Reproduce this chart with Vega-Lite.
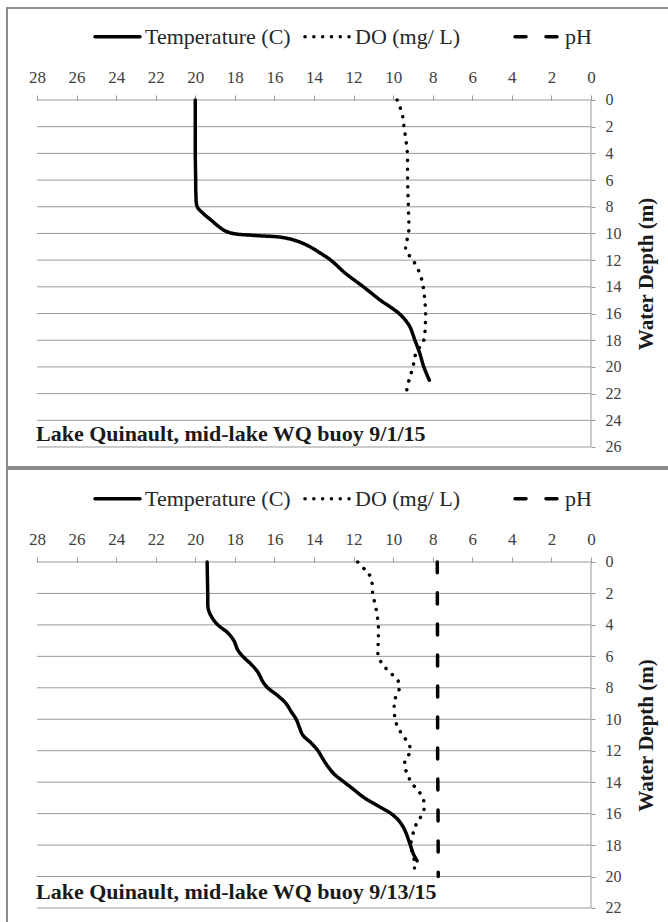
{
  "$schema": "https://vega.github.io/schema/vega-lite/v6.json",
  "background": "white",
  "padding": {"left": 6, "top": 7, "right": 0, "bottom": 0},
  "spacing": 0,
  "config": {
    "font": "'Liberation Serif', 'Times New Roman', serif",
    "view": {"stroke": "#8c8c8c", "strokeWidth": 2, "fill": "white"},
    "axis": {"labelFont": "'Liberation Serif', 'Times New Roman', serif", "titleFont": "'Liberation Serif', 'Times New Roman', serif", "labelColor": "#404040", "labelFontSize": 17, "tickColor": "#999999", "domain": false, "grid": false, "labelOverlap": false},
    "legend": {"labelFont": "'Liberation Serif', 'Times New Roman', serif"},
    "text": {"font": "'Liberation Serif', 'Times New Roman', serif"}
  },
  "resolve": {"scale": {"strokeDash": "independent", "x": "independent", "y": "independent"}, "legend": {"strokeDash": "independent"}},
  "datasets": {
    "grid1": [{"depth": 0}, {"depth": 2}, {"depth": 4}, {"depth": 6}, {"depth": 8}, {"depth": 10}, {"depth": 12}, {"depth": 14}, {"depth": 16}, {"depth": 18}, {"depth": 20}, {"depth": 22}, {"depth": 24}, {"depth": 26}],
    "grid2": [{"depth": 0}, {"depth": 2}, {"depth": 4}, {"depth": 6}, {"depth": 8}, {"depth": 10}, {"depth": 12}, {"depth": 14}, {"depth": 16}, {"depth": 18}, {"depth": 20}, {"depth": 22}],
    "p1": [
      {"series": "Temperature (C)", "depth": 0, "value": 20.0},
      {"series": "Temperature (C)", "depth": 2, "value": 20.0},
      {"series": "Temperature (C)", "depth": 4, "value": 20.0},
      {"series": "Temperature (C)", "depth": 6, "value": 19.98},
      {"series": "Temperature (C)", "depth": 7, "value": 19.97},
      {"series": "Temperature (C)", "depth": 8, "value": 19.9},
      {"series": "Temperature (C)", "depth": 8.5, "value": 19.6},
      {"series": "Temperature (C)", "depth": 9, "value": 19.2},
      {"series": "Temperature (C)", "depth": 9.5, "value": 18.8},
      {"series": "Temperature (C)", "depth": 9.8, "value": 18.5},
      {"series": "Temperature (C)", "depth": 10, "value": 18.1},
      {"series": "Temperature (C)", "depth": 10.15, "value": 17.0},
      {"series": "Temperature (C)", "depth": 10.3, "value": 15.6},
      {"series": "Temperature (C)", "depth": 10.6, "value": 14.8},
      {"series": "Temperature (C)", "depth": 11, "value": 14.2},
      {"series": "Temperature (C)", "depth": 11.5, "value": 13.65},
      {"series": "Temperature (C)", "depth": 12, "value": 13.15},
      {"series": "Temperature (C)", "depth": 13, "value": 12.4},
      {"series": "Temperature (C)", "depth": 14, "value": 11.5},
      {"series": "Temperature (C)", "depth": 15, "value": 10.65},
      {"series": "Temperature (C)", "depth": 15.5, "value": 10.15},
      {"series": "Temperature (C)", "depth": 16, "value": 9.7},
      {"series": "Temperature (C)", "depth": 16.5, "value": 9.38},
      {"series": "Temperature (C)", "depth": 17, "value": 9.15},
      {"series": "Temperature (C)", "depth": 18, "value": 8.9},
      {"series": "Temperature (C)", "depth": 19, "value": 8.65},
      {"series": "Temperature (C)", "depth": 20, "value": 8.45},
      {"series": "Temperature (C)", "depth": 21, "value": 8.17},
      {"series": "DO (mg/ L)", "depth": 0, "value": 9.8},
      {"series": "DO (mg/ L)", "depth": 1, "value": 9.55},
      {"series": "DO (mg/ L)", "depth": 2, "value": 9.45},
      {"series": "DO (mg/ L)", "depth": 3, "value": 9.35},
      {"series": "DO (mg/ L)", "depth": 4, "value": 9.28},
      {"series": "DO (mg/ L)", "depth": 6, "value": 9.27},
      {"series": "DO (mg/ L)", "depth": 8, "value": 9.23},
      {"series": "DO (mg/ L)", "depth": 10, "value": 9.22},
      {"series": "DO (mg/ L)", "depth": 10.8, "value": 9.35},
      {"series": "DO (mg/ L)", "depth": 11.3, "value": 9.35},
      {"series": "DO (mg/ L)", "depth": 12, "value": 9.0},
      {"series": "DO (mg/ L)", "depth": 13, "value": 8.65},
      {"series": "DO (mg/ L)", "depth": 14, "value": 8.48},
      {"series": "DO (mg/ L)", "depth": 15, "value": 8.4},
      {"series": "DO (mg/ L)", "depth": 16, "value": 8.36},
      {"series": "DO (mg/ L)", "depth": 17, "value": 8.38},
      {"series": "DO (mg/ L)", "depth": 18, "value": 8.45},
      {"series": "DO (mg/ L)", "depth": 19, "value": 8.85},
      {"series": "DO (mg/ L)", "depth": 20, "value": 9.0},
      {"series": "DO (mg/ L)", "depth": 21, "value": 9.2},
      {"series": "DO (mg/ L)", "depth": 22, "value": 9.35}
    ],
    "p2": [
      {"series": "Temperature (C)", "depth": 0, "value": 19.4},
      {"series": "Temperature (C)", "depth": 2, "value": 19.37},
      {"series": "Temperature (C)", "depth": 3, "value": 19.34},
      {"series": "Temperature (C)", "depth": 3.5, "value": 19.17},
      {"series": "Temperature (C)", "depth": 4, "value": 18.86},
      {"series": "Temperature (C)", "depth": 4.5, "value": 18.36},
      {"series": "Temperature (C)", "depth": 5, "value": 18.05},
      {"series": "Temperature (C)", "depth": 5.6, "value": 17.85},
      {"series": "Temperature (C)", "depth": 6, "value": 17.6},
      {"series": "Temperature (C)", "depth": 6.5, "value": 17.18},
      {"series": "Temperature (C)", "depth": 7, "value": 16.84},
      {"series": "Temperature (C)", "depth": 7.6, "value": 16.59},
      {"series": "Temperature (C)", "depth": 8, "value": 16.34},
      {"series": "Temperature (C)", "depth": 8.5, "value": 15.83},
      {"series": "Temperature (C)", "depth": 9, "value": 15.41},
      {"series": "Temperature (C)", "depth": 9.5, "value": 15.16},
      {"series": "Temperature (C)", "depth": 10, "value": 14.9},
      {"series": "Temperature (C)", "depth": 10.5, "value": 14.74},
      {"series": "Temperature (C)", "depth": 11, "value": 14.57},
      {"series": "Temperature (C)", "depth": 11.5, "value": 14.15},
      {"series": "Temperature (C)", "depth": 12, "value": 13.8},
      {"series": "Temperature (C)", "depth": 12.5, "value": 13.56},
      {"series": "Temperature (C)", "depth": 13, "value": 13.3},
      {"series": "Temperature (C)", "depth": 13.5, "value": 12.97},
      {"series": "Temperature (C)", "depth": 14, "value": 12.47},
      {"series": "Temperature (C)", "depth": 14.5, "value": 11.96},
      {"series": "Temperature (C)", "depth": 15, "value": 11.45},
      {"series": "Temperature (C)", "depth": 15.5, "value": 10.78},
      {"series": "Temperature (C)", "depth": 16, "value": 10.1},
      {"series": "Temperature (C)", "depth": 16.5, "value": 9.68},
      {"series": "Temperature (C)", "depth": 17, "value": 9.43},
      {"series": "Temperature (C)", "depth": 18, "value": 9.13},
      {"series": "Temperature (C)", "depth": 18.5, "value": 9.0},
      {"series": "Temperature (C)", "depth": 19, "value": 8.79},
      {"series": "DO (mg/ L)", "depth": 0, "value": 11.79},
      {"series": "DO (mg/ L)", "depth": 0.5, "value": 11.42},
      {"series": "DO (mg/ L)", "depth": 1, "value": 11.12},
      {"series": "DO (mg/ L)", "depth": 2, "value": 11.03},
      {"series": "DO (mg/ L)", "depth": 3, "value": 10.86},
      {"series": "DO (mg/ L)", "depth": 4, "value": 10.75},
      {"series": "DO (mg/ L)", "depth": 5, "value": 10.75},
      {"series": "DO (mg/ L)", "depth": 6, "value": 10.75},
      {"series": "DO (mg/ L)", "depth": 6.5, "value": 10.53},
      {"series": "DO (mg/ L)", "depth": 7, "value": 10.19},
      {"series": "DO (mg/ L)", "depth": 7.5, "value": 9.77},
      {"series": "DO (mg/ L)", "depth": 8, "value": 9.68},
      {"series": "DO (mg/ L)", "depth": 8.5, "value": 9.85},
      {"series": "DO (mg/ L)", "depth": 9, "value": 9.94},
      {"series": "DO (mg/ L)", "depth": 10, "value": 9.9},
      {"series": "DO (mg/ L)", "depth": 10.5, "value": 9.77},
      {"series": "DO (mg/ L)", "depth": 11, "value": 9.52},
      {"series": "DO (mg/ L)", "depth": 11.5, "value": 9.26},
      {"series": "DO (mg/ L)", "depth": 12, "value": 9.1},
      {"series": "DO (mg/ L)", "depth": 12.5, "value": 9.35},
      {"series": "DO (mg/ L)", "depth": 13, "value": 9.43},
      {"series": "DO (mg/ L)", "depth": 13.5, "value": 9.26},
      {"series": "DO (mg/ L)", "depth": 14, "value": 9.1},
      {"series": "DO (mg/ L)", "depth": 14.5, "value": 8.76},
      {"series": "DO (mg/ L)", "depth": 15, "value": 8.5},
      {"series": "DO (mg/ L)", "depth": 15.5, "value": 8.42},
      {"series": "DO (mg/ L)", "depth": 16, "value": 8.5},
      {"series": "DO (mg/ L)", "depth": 16.5, "value": 8.76},
      {"series": "DO (mg/ L)", "depth": 17, "value": 8.93},
      {"series": "DO (mg/ L)", "depth": 18, "value": 9.1},
      {"series": "DO (mg/ L)", "depth": 19, "value": 8.93},
      {"series": "DO (mg/ L)", "depth": 19.7, "value": 8.93},
      {"series": "pH", "depth": 0, "value": 7.77},
      {"series": "pH", "depth": 4, "value": 7.76},
      {"series": "pH", "depth": 8, "value": 7.75},
      {"series": "pH", "depth": 12, "value": 7.75},
      {"series": "pH", "depth": 16, "value": 7.73},
      {"series": "pH", "depth": 20, "value": 7.72}
    ]
  },
  "vconcat": [
    {
      "width": 664,
      "height": 459,
      "layer": [
        {
          "data": {"name": "grid1"},
          "mark": {"type": "rule", "color": "#999999", "strokeWidth": 1},
          "encoding": {
            "y": {"field": "depth", "type": "quantitative",
              "scale": {"domain": [-6.893, 27.499], "reverse": true, "nice": false, "zero": false},
              "axis": {"orient": "right", "offset": -80, "values": [0, 2, 4, 6, 8, 10, 12, 14, 16, 18, 20, 22, 24, 26], "tickCount": 30, "labelOverlap": false, "labelFont": "'Liberation Serif', 'Times New Roman', serif", "labelFontSize": 16, "tickSize": 4, "labelPadding": 10, "title": "Water Depth (m)", "titleFont": "'Liberation Serif', 'Times New Roman', serif", "titleFontWeight": "bold", "titleFontSize": 21, "titleColor": "#1a1a1a", "titleAngle": 270, "titleX": 55, "titleY": 265.5, "titleAlign": "center", "titleBaseline": "middle"}},
            "x": {"datum": 28, "type": "quantitative",
              "scale": {"domain": [-4.044, 29.516], "reverse": true, "nice": false, "zero": false},
              "axis": {"orient": "top", "offset": -92, "values": [0, 2, 4, 6, 8, 10, 12, 14, 16, 18, 20, 22, 24, 26, 28], "tickCount": 30, "labelOverlap": false, "labelFont": "'Liberation Serif', 'Times New Roman', serif", "tickSize": 5, "labelPadding": 9, "title": null, "labelFlush": false}},
            "x2": {"datum": 0}
          }
        },
        {
          "data": {"values": [{"k": 1}]},
          "mark": {"type": "rule", "color": "#999999", "strokeWidth": 1},
          "encoding": {"x": {"datum": 0, "type": "quantitative"}, "y": {"datum": 0, "type": "quantitative"}, "y2": {"datum": 26}}
        },
        {
          "data": {"name": "p1"},
          "mark": {"type": "line", "interpolate": "catmull-rom", "color": "black", "strokeWidth": 3.5, "strokeCap": "round"},
          "encoding": {
            "x": {"field": "value", "type": "quantitative"},
            "y": {"field": "depth", "type": "quantitative"},
            "order": {"field": "depth", "type": "quantitative"},
            "strokeDash": {"field": "series", "type": "nominal",
              "scale": {"domain": ["Temperature (C)", "DO (mg/ L)", "pH"], "range": [[1, 0], [0.1, 8.7], [11, 20]]},
              "legend": {"orient": "none", "legendX": 86, "legendY": 4, "direction": "horizontal", "title": null, "gridAlign": "all", "symbolType": "stroke", "symbolSize": 2025, "symbolStrokeColor": "black", "symbolStrokeWidth": 3.5, "labelFontSize": 22, "labelFont": "'Liberation Serif', 'Times New Roman', serif", "labelColor": "#262626", "labelOffset": 3, "columnPadding": 7, "padding": 0, "labelLimit": 300,
                "encode": {"symbols": {"update": {"strokeCap": {"value": "round"}}}}}
            }
          }
        },
        {
          "data": {"values": [{"label": "Lake Quinault, mid-lake WQ buoy 9/1/15"}]},
          "mark": {"type": "text", "align": "left", "baseline": "middle", "font": "'Liberation Serif', 'Times New Roman', serif", "fontWeight": "bold", "fontSize": 22, "color": "#1a1a1a", "dx": -1},
          "encoding": {"x": {"datum": 28, "type": "quantitative"}, "y": {"datum": 25, "type": "quantitative"}, "text": {"field": "label"}}
        }
      ]
    },
    {
      "width": 664,
      "height": 460,
      "layer": [
        {
          "data": {"name": "grid2"},
          "mark": {"type": "rule", "color": "#999999", "strokeWidth": 1},
          "encoding": {
            "y": {"field": "depth", "type": "quantitative",
              "scale": {"domain": [-5.913, 23.336], "reverse": true, "nice": false, "zero": false},
              "axis": {"orient": "right", "offset": -80, "values": [0, 2, 4, 6, 8, 10, 12, 14, 16, 18, 20, 22], "tickCount": 30, "labelOverlap": false, "labelFont": "'Liberation Serif', 'Times New Roman', serif", "labelFontSize": 16, "tickSize": 4, "labelPadding": 10, "title": "Water Depth (m)", "titleFont": "'Liberation Serif', 'Times New Roman', serif", "titleFontWeight": "bold", "titleFontSize": 21, "titleColor": "#1a1a1a", "titleAngle": 270, "titleX": 55, "titleY": 266, "titleAlign": "center", "titleBaseline": "middle"}},
            "x": {"datum": 28, "type": "quantitative",
              "scale": {"domain": [-4.044, 29.516], "reverse": true, "nice": false, "zero": false},
              "axis": {"orient": "top", "offset": -93, "values": [0, 2, 4, 6, 8, 10, 12, 14, 16, 18, 20, 22, 24, 26, 28], "tickCount": 30, "labelOverlap": false, "labelFont": "'Liberation Serif', 'Times New Roman', serif", "tickSize": 5, "labelPadding": 9, "title": null, "labelFlush": false}},
            "x2": {"datum": 0}
          }
        },
        {
          "data": {"values": [{"k": 1}]},
          "mark": {"type": "rule", "color": "#999999", "strokeWidth": 1},
          "encoding": {"x": {"datum": 0, "type": "quantitative"}, "y": {"datum": 0, "type": "quantitative"}, "y2": {"datum": 22}}
        },
        {
          "data": {"name": "p2"},
          "mark": {"type": "line", "interpolate": "catmull-rom", "color": "black", "strokeWidth": 3.5, "strokeCap": "round"},
          "encoding": {
            "x": {"field": "value", "type": "quantitative"},
            "y": {"field": "depth", "type": "quantitative"},
            "order": {"field": "depth", "type": "quantitative"},
            "strokeDash": {"field": "series", "type": "nominal",
              "scale": {"domain": ["Temperature (C)", "DO (mg/ L)", "pH"], "range": [[1, 0], [0.1, 8.7], [11, 20]]},
              "legend": {"orient": "none", "legendX": 86, "legendY": 5, "direction": "horizontal", "title": null, "gridAlign": "all", "symbolType": "stroke", "symbolSize": 2025, "symbolStrokeColor": "black", "symbolStrokeWidth": 3.5, "labelFontSize": 22, "labelFont": "'Liberation Serif', 'Times New Roman', serif", "labelColor": "#262626", "labelOffset": 3, "columnPadding": 7, "padding": 0, "labelLimit": 300,
                "encode": {"symbols": {"update": {"strokeCap": {"value": "round"}}}}}
            }
          }
        },
        {
          "data": {"values": [{"label": "Lake Quinault, mid-lake WQ buoy 9/13/15"}]},
          "mark": {"type": "text", "align": "left", "baseline": "middle", "font": "'Liberation Serif', 'Times New Roman', serif", "fontWeight": "bold", "fontSize": 22, "color": "#1a1a1a", "dx": -1},
          "encoding": {"x": {"datum": 28, "type": "quantitative"}, "y": {"datum": 21, "type": "quantitative"}, "text": {"field": "label"}}
        }
      ]
    }
  ]
}
